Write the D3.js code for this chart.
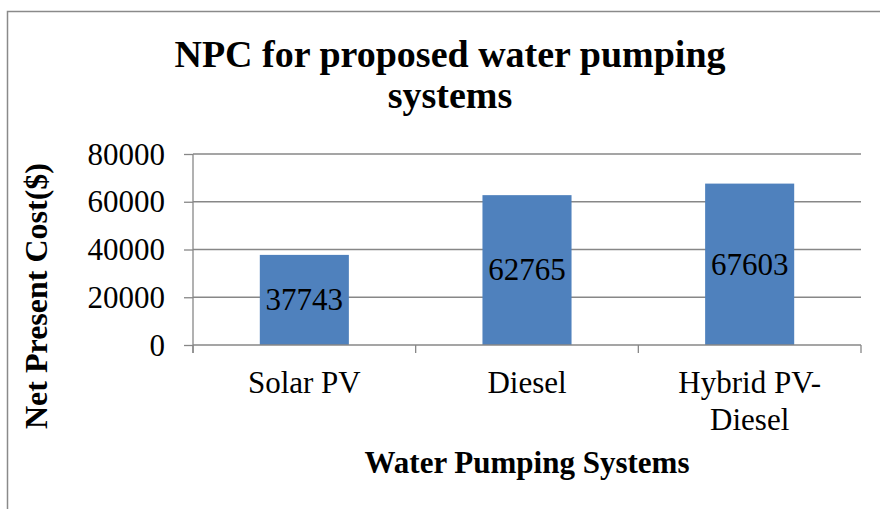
<!DOCTYPE html>
<html>
<head>
<meta charset="utf-8">
<script src="https://cdn.jsdelivr.net/npm/d3@7"></script>
<style>
  html, body { margin: 0; padding: 0; background: #fff; }
  svg { display: block; }
  .axis text { font-family: "Liberation Serif", "Times New Roman", serif; font-size: 31px; fill: #000; }
  .axis path, .axis line { stroke: #878787; stroke-width: 1.3px; }
</style>
</head>
<body>
<svg id="chart" width="880" height="509"></svg>
<script>
const categories = ["Solar PV", "Diesel", "Hybrid PV-\nDiesel"];
const values = [37743, 62765, 67603];
const yTicks = [0, 20000, 40000, 60000, 80000];
const titleLines = ["NPC for proposed water pumping", "systems"];
const xTitle = "Water Pumping Systems";
const yTitle = "Net Present Cost($)";

const W = 880, H = 509;
const plot = { left: 193, right: 861, top: 154, bottom: 345 };
const serif = '"Liberation Serif", "Times New Roman", serif';
const gridColor = "#878787";

const svg = d3.select("#chart");

// outer chart border (only top and left visible in the crop)
svg.append("rect")
  .attr("x", 7.5).attr("y", 11.5)
  .attr("width", W + 20).attr("height", H + 20)
  .attr("fill", "#fff")
  .attr("stroke", "#8a8a8a").attr("stroke-width", 1.5);

const x = d3.scaleBand()
  .domain(categories)
  .range([plot.left, plot.right])
  .paddingInner(0.6)
  .paddingOuter(0.3);

const y = d3.scaleLinear()
  .domain([0, 80000])
  .range([plot.bottom, plot.top]);

// gridlines
svg.append("g")
  .selectAll("line")
  .data(yTicks.filter(d => d > 0))
  .join("line")
  .attr("x1", plot.left).attr("x2", plot.right)
  .attr("y1", d => y(d)).attr("y2", d => y(d))
  .attr("stroke", gridColor).attr("stroke-width", 1.3);

// bars
svg.append("g")
  .selectAll("rect")
  .data(values)
  .join("rect")
  .attr("x", (d, i) => x(categories[i]))
  .attr("width", x.bandwidth())
  .attr("y", d => y(d))
  .attr("height", d => y(0) - y(d))
  .attr("fill", "#4F81BD");

// y axis
const yAxis = svg.append("g")
  .attr("class", "axis")
  .attr("transform", `translate(${plot.left},0)`)
  .call(d3.axisLeft(y).tickValues(yTicks).tickFormat(d3.format("d")).tickSizeInner(9).tickSizeOuter(0).tickPadding(19));
yAxis.select(".domain").attr("d", `M0,${plot.top}V${plot.bottom + 8}`);
yAxis.selectAll("text").attr("dy", "0.33em");

// x axis (category boundary ticks)
const xAxisG = svg.append("g")
  .attr("class", "axis")
  .attr("transform", `translate(0,${plot.bottom})`);
xAxisG.append("line")
  .attr("x1", plot.left).attr("x2", plot.right)
  .attr("y1", 0).attr("y2", 0)
  .attr("stroke", gridColor).attr("stroke-width", 1.3);
const step = x.step();
const boundaries = d3.range(categories.length + 1).map(i => plot.left + i * step);
xAxisG.selectAll("line.tk")
  .data(boundaries)
  .join("line")
  .attr("class", "tk")
  .attr("x1", d => d).attr("x2", d => d)
  .attr("y1", 0).attr("y2", 8)
  .attr("stroke", gridColor).attr("stroke-width", 1.3);

// category labels
const catLabels = svg.append("g")
  .selectAll("text")
  .data(categories)
  .join("text")
  .attr("x", d => x(d) + x.bandwidth() / 2)
  .attr("y", 393)
  .attr("text-anchor", "middle")
  .attr("font-family", serif)
  .attr("font-size", 31)
  .attr("fill", "#000");
catLabels.each(function(d) {
  const lines = d.split("\n");
  const t = d3.select(this);
  lines.forEach((ln, i) => {
    t.append("tspan")
      .attr("x", x(d) + x.bandwidth() / 2)
      .attr("dy", i === 0 ? 0 : 37)
      .text(ln);
  });
});

// data labels (centered in bars)
svg.append("g")
  .selectAll("text")
  .data(values)
  .join("text")
  .attr("x", (d, i) => x(categories[i]) + x.bandwidth() / 2)
  .attr("y", d => (y(d) + y(0)) / 2)
  .attr("dy", "0.33em")
  .attr("text-anchor", "middle")
  .attr("font-family", serif)
  .attr("font-size", 31)
  .attr("fill", "#000")
  .text(d => d);

// title
svg.append("text")
  .attr("text-anchor", "middle")
  .attr("font-family", serif)
  .attr("font-weight", "bold")
  .attr("font-size", 38)
  .attr("fill", "#000")
  .selectAll("tspan")
  .data(titleLines)
  .join("tspan")
  .attr("x", 450)
  .attr("y", (d, i) => 67 + i * 41)
  .text(d => d);

// x axis title
svg.append("text")
  .attr("x", 527).attr("y", 473)
  .attr("text-anchor", "middle")
  .attr("font-family", serif)
  .attr("font-weight", "bold")
  .attr("font-size", 31)
  .attr("fill", "#000")
  .text(xTitle);

// y axis title
svg.append("text")
  .attr("transform", "translate(47,296) rotate(-90)")
  .attr("text-anchor", "middle")
  .attr("font-family", serif)
  .attr("font-weight", "bold")
  .attr("font-size", 32)
  .attr("fill", "#000")
  .text(yTitle);
</script>
</body>
</html>
